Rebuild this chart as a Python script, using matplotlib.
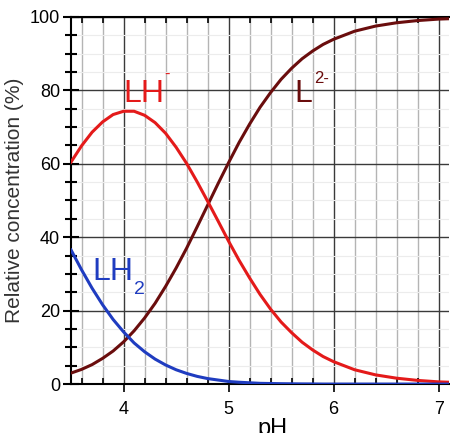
import numpy as np
import matplotlib
matplotlib.use("Agg")
import matplotlib.pyplot as plt
from matplotlib import font_manager
from matplotlib.ticker import MultipleLocator

# values (percent of each species vs pH)
ph = [3.5, 3.6, 3.7, 3.8, 3.9, 4.0, 4.1, 4.2, 4.3, 4.4, 4.5, 4.6, 4.7, 4.8, 4.9,
      5.0, 5.1, 5.2, 5.3, 5.4, 5.5, 5.6, 5.7, 5.8, 5.9, 6.0, 6.2, 6.4, 6.6, 6.8,
      7.0, 7.1]
lh2 = [36.5, 31.1, 26.1, 21.6, 17.6, 14.2, 11.2, 8.8, 6.8, 5.2, 3.9, 2.9, 2.1, 1.5,
       1.1, 0.7, 0.5, 0.35, 0.2, 0.15, 0.1, 0.07, 0.04, 0.03, 0.0, 0.0, 0.0, 0.0,
       0.0, 0.0, 0.0, 0.0]
lh = [60.5, 64.9, 68.6, 71.4, 73.4, 74.3, 74.3, 73.2, 71.2, 68.3, 64.5, 60.1, 55.1,
      49.8, 44.4, 38.9, 33.7, 28.9, 24.4, 20.4, 16.9, 14.0, 11.4, 9.3, 7.5, 6.1,
      3.9, 2.5, 1.6, 1.0, 0.6, 0.5]
l2 = [3.0, 4.0, 5.3, 7.0, 9.0, 11.5, 14.5, 18.0, 22.0, 26.6, 31.6, 37.0, 42.8, 48.7,
      54.6, 60.3, 65.8, 70.8, 75.4, 79.4, 83.0, 86.0, 88.6, 90.7, 92.5, 93.9, 96.1,
      97.5, 98.4, 99.0, 99.4, 99.5]

names = [f.name for f in font_manager.fontManager.ttflist]
narrow = "Liberation Sans Narrow" if "Liberation Sans Narrow" in names else "Liberation Sans"

fig = plt.figure(figsize=(4.5, 4.33), dpi=100)
ax = fig.add_axes([0.158, 0.113, 0.84, 0.848])

ax.plot(ph, l2, color="#6a0d0d", lw=2.2, zorder=3)
ax.plot(ph, lh, color="#e41a1a", lw=2.2, zorder=4)
ax.plot(ph, lh2, color="#1f3cc0", lw=2.2, zorder=5)

ax.set_xlim(3.5, 7.1)
ax.set_ylim(0, 100)
ax.xaxis.set_major_locator(MultipleLocator(1))
ax.xaxis.set_minor_locator(MultipleLocator(0.2))
ax.yaxis.set_major_locator(MultipleLocator(20))
ax.yaxis.set_minor_locator(MultipleLocator(5))

ax.grid(which="major", axis="x", color="#3a3a3a", lw=1.0)
ax.grid(which="minor", axis="x", color="#b4b4b4", lw=1.0)
ax.grid(which="major", axis="y", color="#3a3a3a", lw=1.0)
ax.grid(which="minor", axis="y", color="#ececec", lw=0.8)
ax.set_axisbelow(True)

for s in ["left", "bottom", "top"]:
    ax.spines[s].set_linewidth(1.5)
ax.spines["right"].set_visible(False)

ax.tick_params(axis="x", which="major", direction="out", length=6, width=1.2,
               pad=6, labelsize=13)
ax.tick_params(axis="x", which="minor", direction="in", length=4, width=1.2,
               top=True)
ax.tick_params(axis="y", which="major", direction="inout", length=12, width=1.5,
               pad=2, labelsize=13)
ax.tick_params(axis="y", which="minor", direction="inout", length=8, width=1.5)
for lab in ax.get_xticklabels() + ax.get_yticklabels():
    lab.set_fontfamily(narrow)

ax.set_ylabel("Relative concentration (%)", fontsize=15, color="#333333",
              family="Liberation Sans", labelpad=4)
ax.set_xlabel("pH", fontsize=17, family=narrow, x=0.534, labelpad=0)

# species labels
big = dict(fontsize=23, family=narrow, va="baseline", ha="left")
ax.text(4.0, 76.8, "LH", color="#e41a1a", **big)
ax.text(4.385, 83.0, "-", color="#e41a1a", fontsize=12, family=narrow, va="baseline")
ax.text(5.63, 76.8, "L", color="#6a0d0d", **big)
ax.text(5.81, 82.0, "2-", color="#6a0d0d", fontsize=12, family=narrow, va="baseline")
ax.text(3.70, 28.3, "LH", color="#1f3cc0", **big)
ax.text(4.10, 24.5, "2", color="#1f3cc0", fontsize=14, family=narrow, va="baseline")

fig.savefig("out.png", dpi=100)
